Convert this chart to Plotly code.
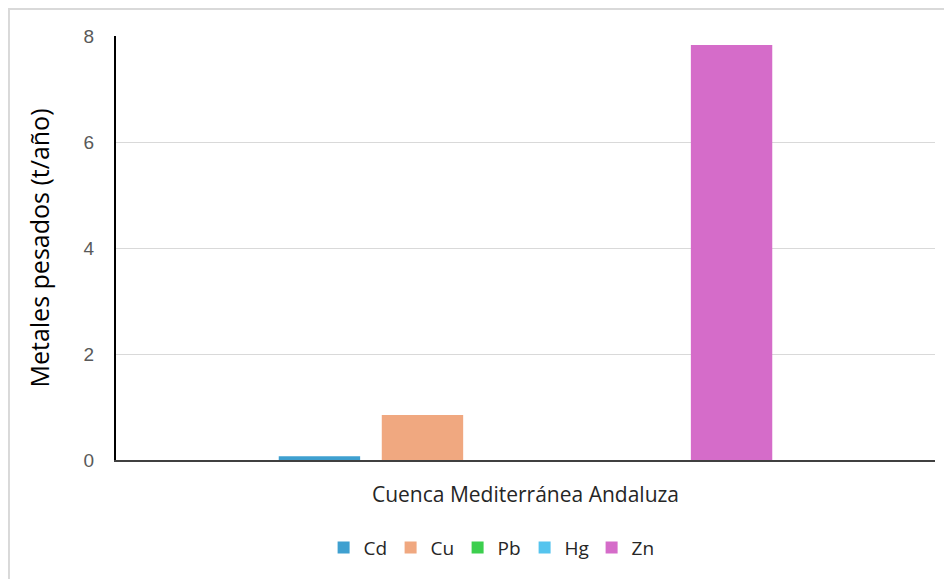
import plotly.graph_objects as go

categories = ["Cuenca Mediterránea Andaluza"]
metals = ["Cd", "Cu", "Pb", "Hg", "Zn"]
values = [0.07, 0.85, 0.0, 0.0, 7.83]
colors = ["#3fa0d0", "#f0a880", "#3ccf4e", "#55c4ee", "#d56cc9"]
y_ticks = [0, 2, 4, 6, 8]

fig = go.Figure()
for m, v, c in zip(metals, values, colors):
    fig.add_trace(go.Bar(name=m, x=categories, y=[v], marker=dict(color=c, line=dict(width=0))))

fig.update_layout(
    width=944, height=571,
    margin=dict(l=108, r=17, t=28, b=119),
    paper_bgcolor="white", plot_bgcolor="white",
    barmode="group", bargap=0.371, bargroupgap=0.21,
    font=dict(family="Liberation Sans, Arial", color="#595959"),
    showlegend=True,
    legend=dict(orientation="h", x=0.458, xanchor="center", y=-0.207, yanchor="middle",
                font=dict(family="Open Sans, sans-serif", size=19, color="#262626"),
                itemwidth=30, entrywidth=22, traceorder="normal"),
    xaxis=dict(showgrid=False, showline=True, linecolor="#404040", linewidth=2,
               tickfont=dict(family="Open Sans, sans-serif", size=21, color="#262626"),
               ticks="", ticklabelstandoff=15),
    yaxis=dict(range=[0, 8], tickvals=y_ticks, showgrid=True, gridcolor="#d9d9d9", gridwidth=1,
               showline=True, linecolor="black", linewidth=2, zeroline=False,
               tickfont=dict(size=19, color="#595959"), ticks="", ticklabelstandoff=16,
               title=dict(text="Metales pesados (t/año)",
                          font=dict(family="Open Sans, sans-serif", size=25, color="black"),
                          standoff=27)),
    shapes=[dict(type="rect", xref="paper", yref="paper", x0=-0.1307, x1=1.05, y0=-0.4, y1=1.0637,
                 line=dict(color="#d9d9d9", width=2), fillcolor="rgba(0,0,0,0)", layer="below")],
)

fig.write_html("out.html")
